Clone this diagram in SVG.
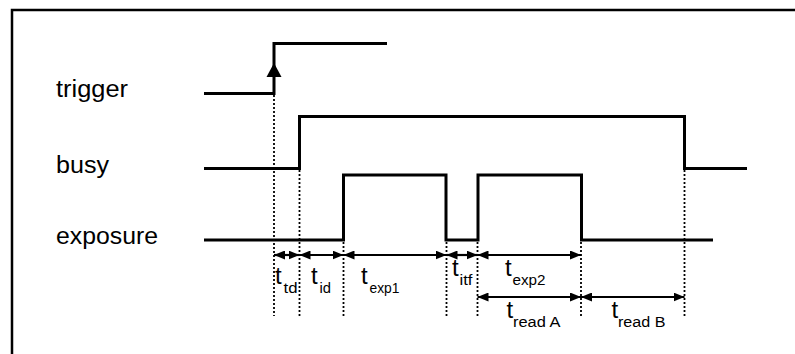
<svg xmlns="http://www.w3.org/2000/svg" width="795" height="354" viewBox="0 0 795 354">
<defs>
<marker id="ah" markerUnits="userSpaceOnUse" markerWidth="11" markerHeight="9" refX="11" refY="4.5" orient="auto-start-reverse">
<path d="M0,0 L11,4.5 L0,9 z" fill="#000"/>
</marker>
<style>
.sig{fill:none;stroke:#000;stroke-width:3;stroke-linejoin:miter}
.dot{fill:none;stroke:#000;stroke-width:1.8;stroke-dasharray:2 2}
.dim{fill:none;stroke:#000;stroke-width:2.2;marker-start:url(#ah);marker-end:url(#ah)}
.lbl{font-family:"Liberation Sans",Arial,Helvetica,sans-serif;font-size:23px;fill:#000}
.t{font-family:"Liberation Sans",Arial,Helvetica,sans-serif;font-size:24px;fill:#000}
.s{font-family:"Liberation Sans",Arial,Helvetica,sans-serif;font-size:15.5px;fill:#000}
</style>
</defs>
<rect width="795" height="354" fill="#fff"/>
<g id="frame"><path d="M12,354 L12,10 L795,10" fill="none" stroke="#000" stroke-width="2.5"/></g>

<g id="trigger">
<text class="lbl" x="56" y="96.5" textLength="72" lengthAdjust="spacingAndGlyphs">trigger</text>
<polyline class="sig" points="204,93.5 274,93.5 274,43.5 387,43.5"/>
<polygon points="274,63 266.5,77 281.5,77" fill="#000"/>
</g>
<g id="busy">
<text class="lbl" x="56" y="172.5" textLength="53" lengthAdjust="spacingAndGlyphs">busy</text>
<polyline class="sig" points="204,168.5 299.5,168.5 299.5,116.5 684.5,116.5 684.5,168.5 747,168.5"/>
</g>
<g id="exposure">
<text class="lbl" x="56" y="243.5" textLength="102" lengthAdjust="spacingAndGlyphs">exposure</text>
<polyline class="sig" points="204,240 343.5,240 343.5,175 446,175 446,240 478,240 478,175 581.5,175 581.5,240 713,240"/>
</g>

<g id="connectors">
<line class="dot" x1="274" y1="95" x2="274" y2="316"/>
<line class="dot" x1="299.5" y1="170" x2="299.5" y2="316"/>
<line class="dot" x1="343.5" y1="242" x2="343.5" y2="316"/>
<line class="dot" x1="446.5" y1="242" x2="446.5" y2="316"/>
<line class="dot" x1="477.5" y1="242" x2="477.5" y2="316"/>
<line class="dot" x1="581" y1="242" x2="581" y2="316"/>
<line class="dot" x1="684.5" y1="170" x2="684.5" y2="316"/>

<line class="dim" x1="274" y1="255" x2="299.5" y2="255"/>
<line class="dim" x1="299.5" y1="255" x2="343.5" y2="255"/>
<line class="dim" x1="343.5" y1="255" x2="446.5" y2="255"/>
<line class="dim" x1="446.5" y1="255" x2="477.5" y2="255"/>
<line class="dim" x1="477.5" y1="255" x2="581" y2="255"/>
<line class="dim" x1="477.5" y1="297" x2="581" y2="297"/>
<line class="dim" x1="581" y1="297" x2="684.5" y2="297"/>
</g>

<g id="labels">
<text class="t" x="275" y="284">t</text><text class="s" x="283.5" y="293" textLength="14" lengthAdjust="spacingAndGlyphs">td</text>
<text class="t" x="311" y="284">t</text><text class="s" x="319.5" y="293" textLength="11.5" lengthAdjust="spacingAndGlyphs">id</text>
<text class="t" x="361" y="284">t</text><text class="s" x="369.5" y="293" textLength="30" lengthAdjust="spacingAndGlyphs">exp1</text>
<text class="t" x="452" y="276">t</text><text class="s" x="459.5" y="284.5" textLength="13" lengthAdjust="spacingAndGlyphs">itf</text>
<text class="t" x="505" y="276">t</text><text class="s" x="512.5" y="284.5" textLength="33" lengthAdjust="spacingAndGlyphs">exp2</text>
<text class="t" x="506.5" y="318">t</text><text class="s" x="513" y="327" textLength="47.5" lengthAdjust="spacingAndGlyphs">read A</text>
<text class="t" x="611.5" y="318">t</text><text class="s" x="618" y="327" textLength="47.5" lengthAdjust="spacingAndGlyphs">read B</text>
</g>
</svg>
